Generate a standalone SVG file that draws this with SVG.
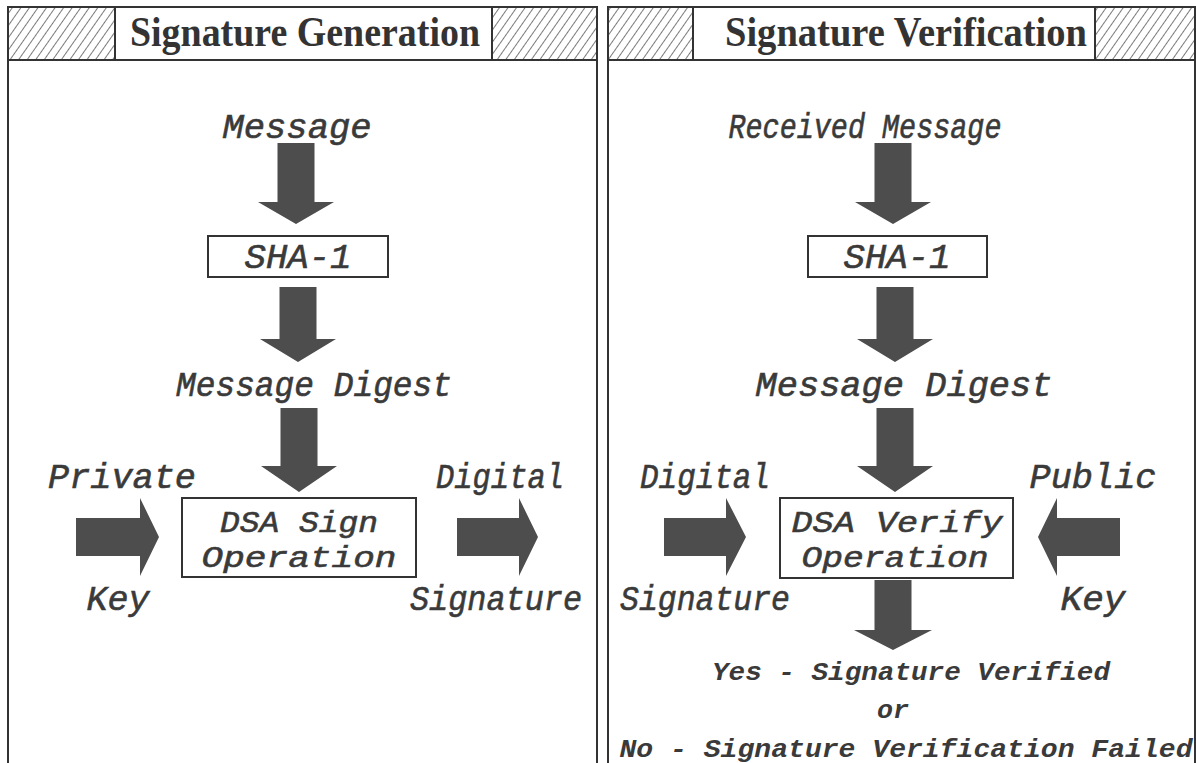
<svg xmlns="http://www.w3.org/2000/svg" width="1196" height="763" viewBox="0 0 1196 763">
<defs>
<pattern id="hatch" patternUnits="userSpaceOnUse" width="7" height="10" patternTransform="rotate(35)">
<line x1="0" y1="0" x2="0" y2="10" stroke="#333" stroke-width="1.3"/>
</pattern>
<style>
.panel{fill:#fff;stroke:#333;stroke-width:2}
.hat{fill:url(#hatch);stroke:#333;stroke-width:2}
.ttl{fill:#fff;stroke:#333;stroke-width:2}
.box{fill:#fff;stroke:#333;stroke-width:2}
.title{font-family:"Liberation Serif",serif;font-weight:bold;font-size:42px;fill:#333;text-anchor:middle}
.lbl{font-family:"Liberation Mono",monospace;font-style:italic;font-size:35px;fill:#3a3a3a;stroke:#3a3a3a;stroke-width:0.6;text-anchor:middle}
.inb{font-size:30px}
.res{font-family:"Liberation Mono",monospace;font-style:italic;font-weight:bold;font-size:26px;fill:#3a3a3a;text-anchor:middle}
.arr{fill:#4d4d4d}
</style>
</defs>
<rect width="1196" height="763" fill="#fff"/>
<g id="panel-left">
<rect class="panel" x="8" y="7" width="589" height="770"/>
<rect class="hat" x="8" y="7" width="107" height="53"/>
<rect class="ttl" x="115" y="7" width="377" height="53"/>
<rect class="hat" x="492" y="7" width="105" height="53"/>
<text class="title" x="305" y="46" textLength="350" lengthAdjust="spacingAndGlyphs">Signature Generation</text>
</g>
<g id="panel-right">
<rect class="panel" x="608" y="7" width="587" height="770"/>
<rect class="hat" x="608" y="7" width="85" height="53"/>
<rect class="ttl" x="693" y="7" width="402" height="53"/>
<rect class="hat" x="1095" y="7" width="100" height="53"/>
<text class="title" x="906" y="46" textLength="362" lengthAdjust="spacingAndGlyphs">Signature Verification</text>
</g>
<g id="connectors">
<path class="arr" d="M277.5 143H314.5V202H334L296 224L258 202H277.5Z"/>
<path class="arr" d="M279.5 287H316.5V339H336L298 362L260 339H279.5Z"/>
<path class="arr" d="M280.5 408H317.5V466H337L299 492L261 466H280.5Z"/>
<path class="arr" d="M76 518H140V498L159 537L140 576V556H76Z"/>
<path class="arr" d="M457 518H519V498L538 537L519 576V556H457Z"/>
<path class="arr" d="M874.5 143H911.5V202H931L893 224L855 202H874.5Z"/>
<path class="arr" d="M876.5 287H913.5V339H933L895 362L857 339H876.5Z"/>
<path class="arr" d="M876.5 408H913.5V466H933L895 492L857 466H876.5Z"/>
<path class="arr" d="M664 518H726V498L746 537L726 576V556H664Z"/>
<path class="arr" d="M1120 518H1057V498L1038 537L1057 576V556H1120Z"/>
<path class="arr" d="M874.5 580H911.5V630H932L893 650L854 630H874.5Z"/>
</g>
<g id="gen-message"><text class="lbl" x="297" y="138" textLength="149" lengthAdjust="spacingAndGlyphs">Message</text></g>
<g id="gen-sha1"><rect class="box" x="208" y="236" width="180" height="41"/><text class="lbl" x="298" y="268" textLength="107" lengthAdjust="spacingAndGlyphs">SHA-1</text></g>
<g id="gen-digest"><text class="lbl" x="314" y="396" textLength="276" lengthAdjust="spacingAndGlyphs">Message Digest</text></g>
<g id="gen-privkey"><text class="lbl" x="122" y="488" textLength="148" lengthAdjust="spacingAndGlyphs">Private</text><text class="lbl" x="118" y="610" textLength="63" lengthAdjust="spacingAndGlyphs">Key</text></g>
<g id="gen-dsa"><rect class="box" x="182" y="498" width="234" height="79"/><text class="lbl inb" x="299" y="532" textLength="158" lengthAdjust="spacingAndGlyphs">DSA Sign</text><text class="lbl inb" x="299" y="567" textLength="195" lengthAdjust="spacingAndGlyphs">Operation</text></g>
<g id="gen-sig"><text class="lbl" x="500" y="488" textLength="128" lengthAdjust="spacingAndGlyphs">Digital</text><text class="lbl" x="496" y="610" textLength="172" lengthAdjust="spacingAndGlyphs">Signature</text></g>
<g id="ver-message"><text class="lbl" x="865" y="138" textLength="273" lengthAdjust="spacingAndGlyphs">Received Message</text></g>
<g id="ver-sha1"><rect class="box" x="808" y="236" width="179" height="41"/><text class="lbl" x="897" y="268" textLength="107" lengthAdjust="spacingAndGlyphs">SHA-1</text></g>
<g id="ver-digest"><text class="lbl" x="904" y="396" textLength="297" lengthAdjust="spacingAndGlyphs">Message Digest</text></g>
<g id="ver-sig"><text class="lbl" x="705" y="488" textLength="130" lengthAdjust="spacingAndGlyphs">Digital</text><text class="lbl" x="705" y="610" textLength="170" lengthAdjust="spacingAndGlyphs">Signature</text></g>
<g id="ver-dsa"><rect class="box" x="780" y="498" width="233" height="80"/><text class="lbl inb" x="897" y="532" textLength="211" lengthAdjust="spacingAndGlyphs">DSA Verify</text><text class="lbl inb" x="895" y="567" textLength="187" lengthAdjust="spacingAndGlyphs">Operation</text></g>
<g id="ver-pubkey"><text class="lbl" x="1093" y="488" textLength="127" lengthAdjust="spacingAndGlyphs">Public</text><text class="lbl" x="1093" y="610" textLength="65" lengthAdjust="spacingAndGlyphs">Key</text></g>
<g id="ver-result"><text class="res" x="911" y="680" textLength="398" lengthAdjust="spacingAndGlyphs">Yes - Signature Verified</text><text class="res" x="893" y="718" textLength="32" lengthAdjust="spacingAndGlyphs">or</text><text class="res" x="906" y="757" textLength="573" lengthAdjust="spacingAndGlyphs">No - Signature Verification Failed</text></g>
</svg>
